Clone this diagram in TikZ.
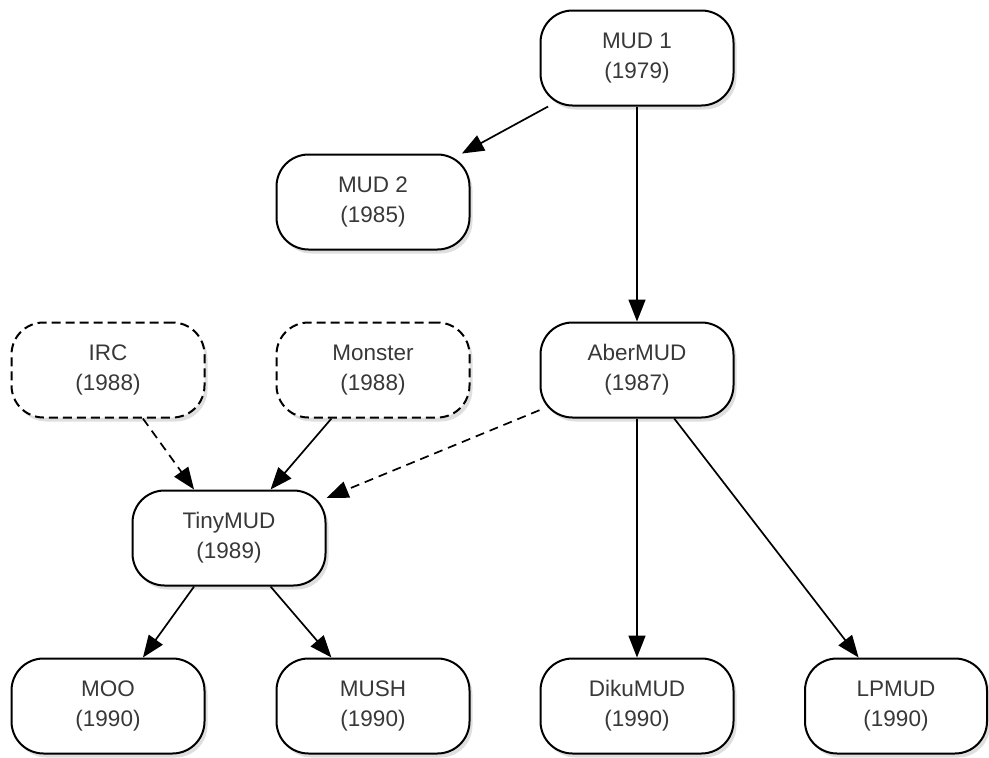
\documentclass[tikz,border=0pt]{standalone}
\usepackage{fontspec}
\setmainfont{Liberation Sans}
\usetikzlibrary{arrows.meta,shadows}
\definecolor{txt}{HTML}{383838}
\tikzset{
  mudbox/.style={draw=black, line width=2pt, fill=white, rounded corners=32pt,
    minimum width=193pt, minimum height=95pt, inner sep=0pt, align=center,
    text=txt, font=\fontsize{22.5}{30}\selectfont,
    drop shadow={opacity=0.25, shadow xshift=3pt, shadow yshift=-4pt}},
  dashbox/.style={mudbox, dash pattern=on 9pt off 5pt},
  link/.style={draw=black, line width=1.7pt, -{Triangle[length=22pt,width=17pt]}},
  dlink/.style={link, dash pattern=on 9pt off 6pt}
}
\begin{document}
\begin{tikzpicture}[x=1pt,y=-1pt]
\useasboundingbox (0,0) rectangle (989,758);
\node[mudbox] (mud1) at (637,58) {MUD 1\\(1979)};
\node[mudbox] (mud2) at (373,202) {MUD 2\\(1985)};
\node[dashbox] (irc) at (108,370) {IRC\\(1988)};
\node[dashbox] (monster) at (373,370) {Monster\\(1988)};
\node[mudbox] (aber) at (637,370) {AberMUD\\(1987)};
\node[mudbox] (tiny) at (229,538) {TinyMUD\\(1989)};
\node[mudbox] (moo) at (108,706) {MOO\\(1990)};
\node[mudbox] (mush) at (373,706) {MUSH\\(1990)};
\node[mudbox] (diku) at (637,706) {DikuMUD\\(1990)};
\node[mudbox, minimum width=182pt] (lp) at (896,706) {LPMUD\\(1990)};
\draw[link] (mud1) -- (mud2);
\draw[link] (mud1) -- (aber);
\draw[dlink] (irc) -- (tiny);
\draw[link] (monster) -- (tiny);
\draw[dlink] (aber) -- (tiny);
\draw[link] (tiny) -- (moo);
\draw[link] (tiny) -- (mush);
\draw[link] (aber) -- (diku);
\draw[link] (aber) -- (lp);
\end{tikzpicture}
\end{document}
